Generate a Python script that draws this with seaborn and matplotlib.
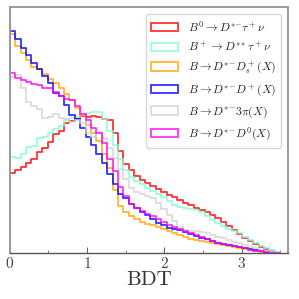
"""
BDT output distributions for signal and background channels
"""

import matplotlib
matplotlib.use('Agg')
import matplotlib.pyplot as plt
from matplotlib.patches import Patch
import seaborn as sns
import numpy as np
import pandas as pd

# 50 bins from 0 to 3.5
n_bins = 50
bdt_range = (0, 3.5)
bin_edges = np.linspace(bdt_range[0], bdt_range[1], n_bins + 1)
bin_centers = 0.5 * (bin_edges[:-1] + bin_edges[1:])

# bin contents (arbitrary units)
sig_b0 = [81, 84, 87, 91, 95, 102, 105, 111, 119, 122,
          130, 132, 134, 137, 136, 137, 136, 134, 133, 120,
          103, 90, 84, 78, 74, 71, 68, 65, 62, 59,
          57, 54, 51, 49, 46, 44, 42, 39, 36, 32,
          28, 24, 20, 16, 13, 10, 7, 5, 3, 1]
sig_bplus = [97, 96, 100, 106, 107, 115, 116, 120, 124, 127,
             133, 135, 136, 138, 140, 141, 141, 134, 122, 108,
             95, 84, 77, 73, 70, 66, 63, 60, 57, 53,
             49, 47, 46, 45, 44, 42, 38, 34, 31, 28,
             25, 23, 21, 17, 14, 11, 8, 6, 4, 2]
bkg_ds = [219, 207, 200, 193, 186, 184, 179, 174, 170, 165,
          159, 153, 145, 138, 128, 120, 112, 100, 86, 64,
          48, 42, 38, 35, 32, 30, 29, 27, 25, 23,
          21, 19, 17, 15, 14, 13, 12, 11, 10, 9,
          8, 7, 6, 5, 4, 3, 2, 2, 1, 1]
bkg_dplus = [222, 214, 205, 198, 190, 184, 177, 170, 160, 157,
             148, 138, 134, 125, 116, 108, 100, 91, 80, 70,
             60, 56, 50, 46, 42, 39, 35, 31, 29, 26,
             25, 24, 22, 20, 18, 16, 15, 13, 11, 10,
             9, 8, 7, 6, 5, 4, 3, 2, 1, 1]
bkg_3pi = [176, 178, 165, 151, 147, 144, 135, 136, 139, 135,
           134, 131, 133, 130, 120, 116, 121, 115, 105, 96,
           85, 75, 66, 62, 60, 58, 56, 51, 45, 39,
           33, 27, 24, 23, 23, 22, 21, 19, 17, 16,
           14, 12, 11, 9, 7, 6, 4, 3, 2, 1]
bkg_d0 = [180, 175, 173, 171, 169, 168, 165, 165, 161, 157,
          154, 153, 147, 139, 133, 125, 120, 110, 95, 83,
          67, 58, 50, 46, 43, 40, 38, 35, 32, 29,
          27, 25, 23, 21, 19, 17, 15, 13, 11, 10,
          9, 8, 7, 6, 4, 3, 3, 2, 1, 1]

labels = [r'$B^0\to D^{*{-}}\tau^+\nu$',
          r'$B^+\to D^{**}\tau^+\nu$',
          r'$B\to D^{*{-}}D_s^+(X)$',
          r'$B\to D^{*{-}}D^+(X)$',
          r'$B\to D^{*{-}}3\pi(X)$',
          r'$B\to D^{*{-}}D^0(X)$']
colors = ['red', 'aquamarine', 'orange', 'blue', 'lightgray', 'magenta']
series = [sig_b0, sig_bplus, bkg_ds, bkg_dplus, bkg_3pi, bkg_d0]

sns.set_style('white')
plt.rcParams['font.family'] = 'serif'
plt.rcParams['font.serif'] = ['cmr10', 'DejaVu Serif']
plt.rcParams['mathtext.fontset'] = 'cm'
plt.rcParams['axes.formatter.use_mathtext'] = True

fig, ax = plt.subplots(figsize=(2.99, 2.99), dpi=100)
fig.subplots_adjust(left=0.033, right=0.963, bottom=0.154, top=0.977)

handles = []
for vals, lab, col in zip(series, labels, colors):
    df = pd.DataFrame({'bdt': bin_centers, 'w': vals})
    n_before = len(ax.collections)
    sns.histplot(data=df, x='bdt', weights='w', bins=n_bins,
                 binrange=bdt_range, element='step', fill=True,
                 color=col, ax=ax)
    # turn the filled step area into an outline
    for coll in ax.collections[n_before:]:
        coll.set_facecolor('none')
        coll.set_edgecolor(col)
        coll.set_linewidth(1.3)
        coll.set_alpha(0.8)
    handles.append(Patch(facecolor='none', edgecolor=col, linewidth=1.3,
                         alpha=0.8, label=lab))

ax.set_xlim(0, 3.6)
ax.set_ylim(1, 246)
ax.set_yticks([])
ax.set_ylabel('')
ax.set_xticks([0, 1, 2, 3])
ax.set_xticks([0.5, 1.5, 2.5, 3.5], minor=True)
ax.tick_params(axis='x', which='both', direction='in', bottom=True,
               labelsize=11, colors='#666666', labelcolor='#444444', pad=2)
ax.tick_params(axis='x', which='major', length=4)
ax.tick_params(axis='x', which='minor', length=2)
ax.set_xlabel('BDT', fontsize=15, labelpad=0, color='#333333')
for side, sp in ax.spines.items():
    sp.set_zorder(5)
    if side == 'bottom':
        sp.set_color('#555555')
        sp.set_linewidth(1.0)
    else:
        sp.set_color('#999999')
        sp.set_linewidth(1.4)

ax.legend(handles=handles, loc='upper right', fontsize=8.5,
          handlelength=2.3, labelspacing=0.5, borderaxespad=0.6,
          framealpha=0.8)

plt.savefig('out.png', dpi=100)
